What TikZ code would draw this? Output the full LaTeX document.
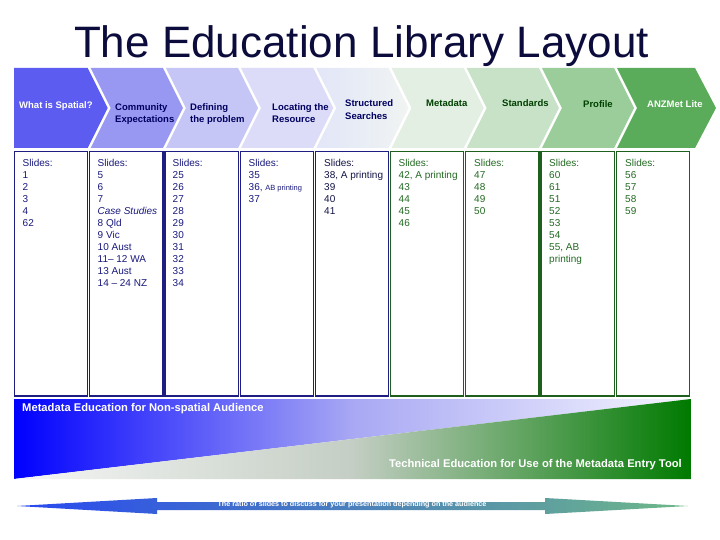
\documentclass[tikz,border=0pt]{standalone}
\usepackage{fontspec}
\setmainfont{Liberation Sans}
\definecolor{titlec}{RGB}{12,12,60}
\definecolor{ch1}{RGB}{92,92,240}
\definecolor{ch2}{RGB}{152,152,242}
\definecolor{ch3}{RGB}{198,198,246}
\definecolor{ch4}{RGB}{220,220,248}
\definecolor{ch5a}{RGB}{226,230,248}
\definecolor{ch5b}{RGB}{240,244,242}
\definecolor{ch6}{RGB}{226,239,226}
\definecolor{ch7}{RGB}{200,226,200}
\definecolor{ch8}{RGB}{154,205,154}
\definecolor{ch9}{RGB}{90,171,90}
\definecolor{navy}{RGB}{0,0,96}
\definecolor{dgreen}{RGB}{0,64,0}
\definecolor{boxblue}{RGB}{30,30,130}
\definecolor{boxgreen}{RGB}{30,95,30}
\definecolor{txtblue}{RGB}{25,25,125}
\definecolor{txtdark}{RGB}{20,20,70}
\definecolor{txtgreen}{RGB}{35,105,35}
\definecolor{bandL}{RGB}{0,0,255}
\definecolor{bandM}{RGB}{168,168,244}
\definecolor{bandR}{RGB}{246,246,255}
\definecolor{lowL}{RGB}{246,246,246}
\definecolor{lowM}{RGB}{196,206,196}
\definecolor{lowR}{RGB}{0,122,0}
\definecolor{arrL}{RGB}{40,72,240}
\definecolor{arrR}{RGB}{110,184,136}
\tikzset{
  chevtext/.style={font=\fontsize{9.5}{12.5}\selectfont\bfseries, inner sep=0, anchor=base west, align=left},
  chevtwo/.style={font=\fontsize{9.5}{12.5}\selectfont\bfseries, inner sep=0, anchor=north west, align=left},
  slidetext/.style={font=\fontsize{10}{12}\selectfont, inner sep=0, anchor=north west, align=left},
  bandtext/.style={font=\fontsize{11.2}{13}\selectfont\bfseries, inner sep=0, text=white},
  colbox/.style={line width=1.2pt},
}
\begin{document}
\begin{tikzpicture}[x=1pt,y=-1pt]
\useasboundingbox (0,0) rectangle (720,540);
\fill[white] (0,0) rectangle (720,540);
% title
\node[anchor=base, font=\fontsize{44}{48}\selectfont, text=titlec, inner sep=0] (title) at (361.5,58) {The Education Library Layout};
% chevrons
\fill[ch1] (14,68) -- (87.7,68) -- (107.7,108) -- (87.7,148) -- (14,148) -- cycle;
\foreach \i/\c in {1/ch2,2/ch3,3/ch4,5/ch6,6/ch7,7/ch8}{
  \pgfmathsetmacro\a{14+75.2*\i}
  \pgfmathsetmacro\b{14+75.2*(\i+1)}
  \fill[\c] (\a+1.5,68) -- (\b-1.5,68) -- (\b+18.5,108) -- (\b-1.5,148) -- (\a+1.5,148) -- (\a+21.5,108) -- cycle;
}
\shade[left color=ch5a, right color=ch5b] (316.3,68) -- (388.5,68) -- (408.5,108) -- (388.5,148) -- (316.3,148) -- (336.3,108) -- cycle;
\fill[ch9] (617.1,68) -- (695,68) -- (716,108) -- (695,148) -- (617.1,148) -- (637.1,108) -- cycle;
% chevron labels
\node[chevtext, text=white] (h1) at (19,109) {What is Spatial?};
\node[chevtwo, text=navy] (h2) at (115,103.1) {Community\\Expectations};
\node[chevtwo, text=navy] (h3) at (190,103.1) {Defining\\the problem};
\node[chevtwo, text=navy] (h4) at (272,103.1) {Locating the\\Resource};
\node[chevtwo, text=navy] (h5) at (345,99.6) {Structured\\Searches};
\node[chevtext, text=dgreen] (h6) at (426,107) {Metadata};
\node[chevtext, text=dgreen] (h7) at (502,107) {Standards};
\node[chevtext, text=dgreen] (h8) at (583,107.5) {Profile};
\node[chevtext, text=white] (h9) at (647,107.5) {ANZMet Lite};
% column boxes
\foreach \i in {0,...,4}{
  \pgfmathsetmacro\a{14+75.2*\i}
  \pgfmathsetmacro\b{14+75.2*(\i+1)}
  \draw[colbox, boxblue] (\a+0.6,151.5) rectangle (\b-1.4,396);
}
\foreach \i in {5,...,8}{
  \pgfmathsetmacro\a{14+75.2*\i}
  \pgfmathsetmacro\b{14+75.2*(\i+1)}
  \draw[colbox, boxgreen] (\a+0.6,151.5) rectangle (\b-1.4,396);
}
% column texts
\node[slidetext, text=txtblue] (c1) at (22.5,159.2) {Slides:\\1\\2\\3\\4\\62};
\node[slidetext, text=txtblue] (c2) at (97.5,159.2) {Slides:\\5\\6\\7\\\textit{Case Studies}\\8 Qld\\9 Vic\\10 Aust\\11-- 12 WA\\13 Aust\\14 -- 24 NZ};
\node[slidetext, text=txtblue] (c3) at (172.5,159.2) {Slides:\\25\\26\\27\\28\\29\\30\\31\\32\\33\\34};
\node[slidetext, text=txtblue] (c4) at (248.5,159.2) {Slides:\\35\\36, {\fontsize{7.5}{9}\selectfont AB printing}\\37};
\node[slidetext, text=txtdark] (c5) at (324,159.2) {Slides:\\38, A printing\\39\\40\\41};
\node[slidetext, text=txtgreen] (c6) at (398.5,159.2) {Slides:\\42, A printing\\43\\44\\45\\46};
\node[slidetext, text=txtgreen] (c7) at (474,159.2) {Slides:\\47\\48\\49\\50};
\node[slidetext, text=txtgreen] (c8) at (549,159.2) {Slides:\\60\\61\\51\\52\\53\\54\\55, AB\\printing};
\node[slidetext, text=txtgreen] (c9) at (625,159.2) {Slides:\\56\\57\\58\\59};
% gradient band
\shade[left color=bandL, right color=bandR, middle color=bandM] (14,399) -- (690.8,399) -- (14,479) -- cycle;
\shade[left color=lowL, right color=lowR, middle color=lowM] (14,479) -- (690.8,399) -- (690.8,479) -- cycle;
\node[bandtext, anchor=base west] (meta) at (22,411) {Metadata Education for Non-spatial Audience};
\node[bandtext, anchor=base east] (tech) at (682,467) {Technical Education for Use of the Metadata Entry Tool};
% double arrow
\shade[left color=arrL, right color=arrR] (17,506) -- (157,498) -- (157,502) -- (545,502) -- (545,498) -- (688,506) -- (545,514) -- (545,510) -- (157,510) -- (157,514) -- cycle;
\node[anchor=base, inner sep=0, text=white, font=\fontsize{7.2}{8}\selectfont\bfseries] (ratio) at (352,506.5) {The ratio of slides to discuss for your presentation depending on the audience};
\end{tikzpicture}
\end{document}
